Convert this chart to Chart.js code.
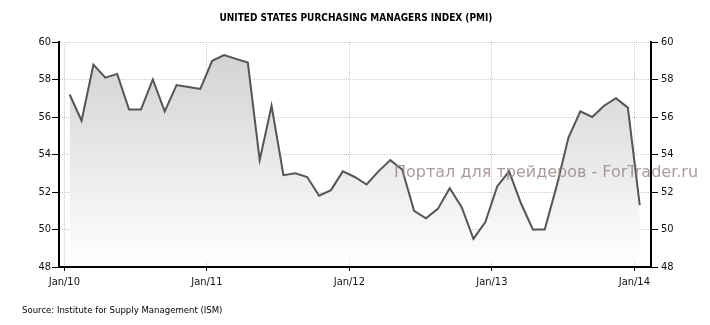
<!DOCTYPE html>
<html>
<head>
<meta charset="utf-8">
<script src="https://cdn.jsdelivr.net/npm/chart.js@4.4.1/dist/chart.umd.min.js"></script>
<style>
  html, body { margin: 0; padding: 0; background: #fff; }
  #wrap { width: 710px; height: 325px; position: relative; }
</style>
</head>
<body>
<div id="wrap"><canvas id="pmiChart" width="710" height="325"></canvas></div>
<script>
// данные PMI, помесячно Jan 2010 .. Jan 2014
const pmi2010 = [57.2, 55.8, 58.8, 58.1, 58.3, 56.4, 56.4, 58.0, 56.3, 57.7, 57.6, 57.5];
const pmi2011 = [59.0, 59.3, 59.1, 58.9, 53.7, 56.6, 52.9, 53.0, 52.8, 51.8, 52.1, 53.1];
const pmi2012 = [52.8, 52.4, 53.1, 53.7, 53.2, 51.0, 50.6, 51.1, 52.2, 51.2, 49.5, 50.4];
const pmi2013 = [52.3, 53.1, 51.4, 50.0, 50.0, 52.3, 54.9, 56.3, 56.0, 56.6, 57.0, 56.5];
const pmi2014 = [51.3];

const tickLabels = ['Jan/10', 'Jan/11', 'Jan/12', 'Jan/13', 'Jan/14'];
const yTicks = [48, 50, 52, 54, 56, 58, 60];

const TITLE = 'UNITED STATES PURCHASING MANAGERS INDEX (PMI)';
const SOURCE = 'Source: Institute for Supply Management (ISM)';
const WATERMARK = 'Портал для трейдеров - ForTrader.ru';

const values = [...pmi2010, ...pmi2011, ...pmi2012, ...pmi2013, ...pmi2014];
// точка стоит в середине месяца
const points = values.map((v, i) => ({ x: i + 0.45, y: v }));

const FONT = "'Liberation Sans Narrow', 'DejaVu Sans Condensed', 'Liberation Sans', sans-serif";

const textPlugin = {
  id: 'texts',
  afterDraw(chart) {
    const ctx = chart.ctx;
    ctx.save();
    ctx.fillStyle = '#000';
    ctx.textAlign = 'center';
    ctx.textBaseline = 'middle';
    ctx.font = "bold 10px " + FONT;
    ctx.fillText(TITLE, 356, 18);

    ctx.textAlign = 'left';
    ctx.font = "9.5px " + FONT;
    ctx.fillText(SOURCE, 22, 311);

    ctx.font = "16px 'DejaVu Sans', sans-serif";
    ctx.fillStyle = 'rgba(150,130,130,0.8)';
    ctx.textBaseline = 'alphabetic';
    ctx.fillText(WATERMARK, 394, 177);
    ctx.restore();
  }
};

function fixY(width) {
  return scale => {
    scale.width = width;
    scale.paddingTop = 0;
    scale.paddingBottom = 0;
  };
}

const yCommon = {
  min: 48, max: 60,
  afterBuildTicks: s => { s.ticks = yTicks.map(v => ({ value: v })); },
  ticks: { color: '#111', padding: 1, font: { family: FONT, size: 11 } },
  border: { display: true, color: '#000', width: 2, dash: [1, 1] },
};

new Chart(document.getElementById('pmiChart'), {
  type: 'line',
  data: {
    datasets: [{
      data: points,
      borderColor: '#555',
      borderWidth: 2,
      pointRadius: 0,
      tension: 0,
      fill: { value: 48.35 },
      backgroundColor: ctx => {
        const area = ctx.chart.chartArea;
        if (!area) return '#e0e0e0';
        const g = ctx.chart.ctx.createLinearGradient(0, area.top, 0, area.bottom);
        g.addColorStop(0, '#d0d0d0');
        g.addColorStop(1, '#ffffff');
        return g;
      }
    }]
  },
  options: {
    responsive: false,
    animation: false,
    layout: { padding: { top: 42, left: 0, right: 0, bottom: 0 } },
    plugins: { legend: { display: false }, tooltip: { enabled: false }, title: { display: false } },
    scales: {
      x: {
        type: 'linear', min: -0.45, max: 49.4,
        afterBuildTicks: s => { s.ticks = tickLabels.map((t, i) => ({ value: i * 12 })); },
        afterFit: s => { s.height = 58; s.paddingLeft = 0; s.paddingRight = 0; },
        ticks: {
          color: '#111', padding: 5, maxRotation: 0, autoSkip: false,
          font: { family: FONT, size: 11 },
          callback: v => tickLabels[Math.round(v / 12)]
        },
        grid: { color: '#cacaca', tickColor: '#000', tickLength: 4, tickWidth: 1 },
        border: { display: true, color: '#000', width: 2, dash: [1, 1] }
      },
      y: {
        ...yCommon,
        position: 'left',
        afterFit: fixY(59),
        grid: { color: '#cacaca', tickColor: '#000', tickLength: 7, tickWidth: 1 }
      },
      y2: {
        ...yCommon,
        position: 'right',
        afterFit: fixY(59),
        ticks: { ...yCommon.ticks, padding: 3 },
        grid: { drawOnChartArea: false, tickColor: '#000', tickLength: 7, tickWidth: 1 }
      }
    }
  },
  plugins: [textPlugin]
});
</script>
</body>
</html>
